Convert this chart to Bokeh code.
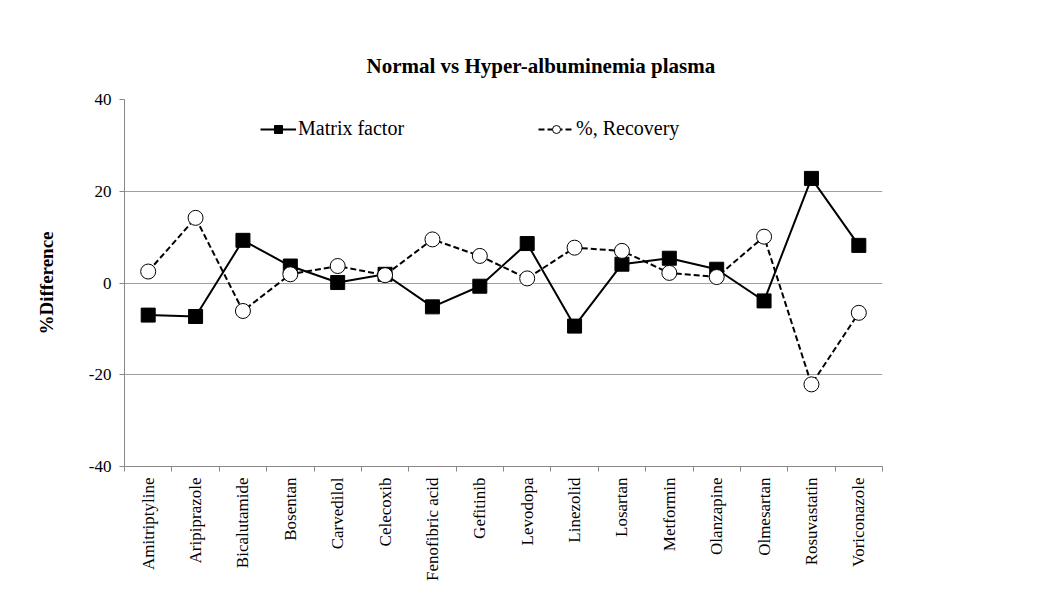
import numpy as np
from bokeh.plotting import figure
from bokeh.models import FixedTicker, Legend, LegendItem, Range1d
from bokeh.embed import file_html
from bokeh.resources import INLINE

categories = ["Amitriptyline", "Aripiprazole", "Bicalutamide", "Bosentan", "Carvedilol",
              "Celecoxib", "Fenofibric acid", "Gefitinib", "Levodopa", "Linezolid",
              "Losartan", "Metformin", "Olanzapine", "Olmesartan", "Rosuvastatin",
              "Voriconazole"]
matrix_factor = [-7.0, -7.3, 9.3, 3.7, 0.1, 1.9, -5.2, -0.7, 8.6, -9.4, 4.1, 5.4, 3.0, -3.9, 22.8, 8.2]
recovery = [2.5, 14.2, -6.1, 1.9, 3.7, 1.7, 9.5, 5.9, 1.0, 7.7, 7.0, 2.2, 1.3, 10.1, -22.1, -6.5]
y_ticks = [-40, -20, 0, 20, 40]

FONT = "Liberation Serif"
n = len(categories)
xs = [i + 0.5 for i in range(n)]

p = figure(width=1040, height=588, output_backend="svg", toolbar_location=None,
           x_range=Range1d(0, n), y_range=Range1d(-40, 40),
           min_border_left=124, min_border_right=158, min_border_top=99, min_border_bottom=122)
p.outline_line_color = None
p.background_fill_color = "white"

p.title.text = "Normal vs Hyper-albuminemia plasma"
p.title.text_font = FONT
p.title.text_font_size = "21px"
p.title.text_font_style = "bold"
p.title.text_color = "black"
p.title.align = "left"
p.title.offset = 242
p.title.standoff = 43

# x axis
p.xaxis.ticker = FixedTicker(ticks=xs, minor_ticks=list(range(n + 1)))
p.xaxis.major_label_overrides = {x: c for x, c in zip(xs, categories)}
p.xaxis.major_label_orientation = np.pi / 2
p.xaxis.major_label_text_font = FONT
p.xaxis.major_label_text_font_size = "17px"
p.xaxis.major_label_text_color = "black"
p.xaxis.major_tick_line_color = None
p.xaxis.minor_tick_line_color = "#888888"
p.xaxis.minor_tick_out = 5
p.xaxis.minor_tick_in = 0
p.xaxis.axis_line_color = "#888888"
p.xaxis.major_label_standoff = 5

# y axis
p.yaxis.ticker = FixedTicker(ticks=y_ticks, minor_ticks=[])
p.yaxis.major_label_overrides = {t: str(t) for t in y_ticks}
p.yaxis.major_label_text_font = FONT
p.yaxis.major_label_text_font_size = "17px"
p.yaxis.major_label_text_color = "black"
p.yaxis.major_tick_line_color = "#888888"
p.yaxis.major_tick_out = 5
p.yaxis.major_tick_in = 0
p.yaxis.axis_line_color = "#888888"
p.yaxis.axis_label = "%Difference"
p.yaxis.axis_label_text_font = FONT
p.yaxis.axis_label_text_font_size = "19px"
p.yaxis.axis_label_text_font_style = "bold"
p.yaxis.axis_label_text_color = "black"
p.yaxis.axis_label_standoff = 29
p.yaxis.major_label_standoff = 8

p.xgrid.grid_line_color = None
p.ygrid.grid_line_color = "#a0a0a0"
p.ygrid.ticker = FixedTicker(ticks=y_ticks)

l1 = p.line(xs, matrix_factor, line_color="black", line_width=2)
m1 = p.scatter(xs, matrix_factor, marker="square", size=14, fill_color="black", line_color="black")
l2 = p.line(xs, recovery, line_color="black", line_width=2, line_dash="6 3")
m2 = p.scatter(xs, recovery, marker="circle", size=15, fill_color="white", line_color="black", line_width=1)

legend = Legend(items=[LegendItem(label="Matrix factor", renderers=[l1, m1]),
                       LegendItem(label="%, Recovery", renderers=[l2, m2])],
                orientation="horizontal", location=(136, 326))
legend.label_text_font = FONT
legend.label_text_font_size = "20px"
legend.label_text_color = "black"
legend.label_standoff = 2
legend.glyph_width = 36
legend.spacing = 134
legend.border_line_color = None
legend.background_fill_alpha = 0
p.add_layout(legend)

open("out.html", "w").write(file_html(p, INLINE))
